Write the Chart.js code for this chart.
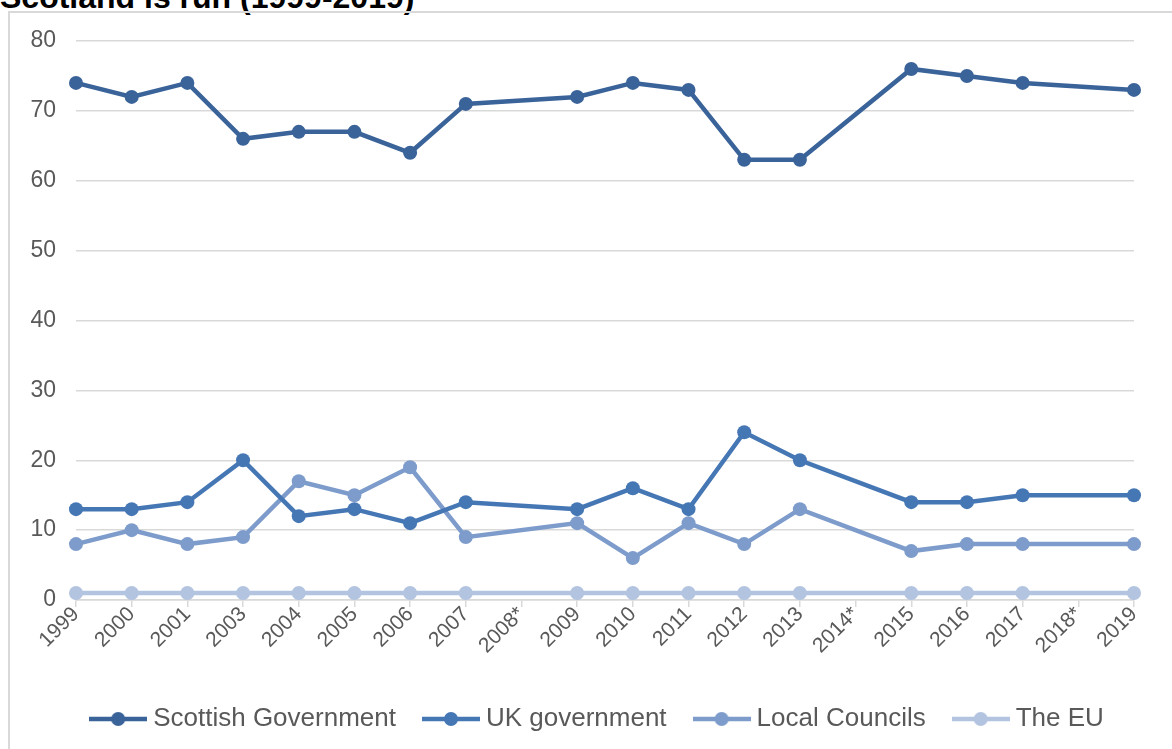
<!DOCTYPE html>
<html lang="en">
<head>
<meta charset="UTF-8">
<script src="https://cdn.jsdelivr.net/npm/chart.js"></script>
<title>Scotland is run (1999-2019)</title>
<style>
    html, body { margin: 0; padding: 0; background: #fff; overflow: hidden; }
    body { width: 1172px; height: 749px; position: relative; font-family: "Liberation Sans", Arial, sans-serif; }
    .title {
        position: absolute; left: 0; top: -19px;
        font-size: 32px; line-height: 32px; font-weight: bold; color: #000; white-space: nowrap;
    }
    .frame {
        position: absolute; left: 8px; top: 11px; width: 1200px; height: 800px;
        border-left: 2px solid #d9d9d9; border-top: 2px solid #d9d9d9;
    }
    .chart-box { position: absolute; left: 0; top: 0; width: 1172px; height: 749px; }
</style>
</head>
<body>
<div class="title">Scotland is run (1999-2019)</div>
<div class="frame"></div>
<div class="chart-box"><canvas id="grafico" width="1172" height="749"></canvas></div>
<script>
    const years = ['1999', '2000', '2001', '2003', '2004', '2005', '2006', '2007', '2008*', '2009',
                   '2010', '2011', '2012', '2013', '2014*', '2015', '2016', '2017', '2018*', '2019'];
    const scottishGov = [74, 72, 74, 66, 67, 67, 64, 71, null, 72, 74, 73, 63, 63, null, 76, 75, 74, null, 73];
    const ukGov = [13, 13, 14, 20, 12, 13, 11, 14, null, 13, 16, 13, 24, 20, null, 14, 14, 15, null, 15];
    const localCouncils = [8, 10, 8, 9, 17, 15, 19, 9, null, 11, 6, 11, 8, 13, null, 7, 8, 8, null, 8];
    const theEU = [1, 1, 1, 1, 1, 1, 1, 1, null, 1, 1, 1, 1, 1, null, 1, 1, 1, null, 1];
    const yTicks = [0, 10, 20, 30, 40, 50, 60, 70, 80];

    const colores = ['#3a6399', '#4677b5', '#7d9ccb', '#b3c4e0'];

    // legend marker: line with a dot in the middle
    function marcador(color) {
        const c = document.createElement('canvas');
        c.width = 58; c.height = 16;
        const ctx = c.getContext('2d');
        ctx.strokeStyle = color;
        ctx.lineWidth = 4.5;
        ctx.beginPath();
        ctx.moveTo(0, 8);
        ctx.lineTo(58, 8);
        ctx.stroke();
        ctx.fillStyle = color;
        ctx.beginPath();
        ctx.arc(29, 8, 7, 0, Math.PI * 2);
        ctx.fill();
        return c;
    }

    function serie(label, data, color) {
        return {
            label: label,
            data: data,
            borderColor: color,
            backgroundColor: color,
            borderWidth: 4.5,
            pointRadius: 7,
            pointHoverRadius: 7,
            pointBorderWidth: 0,
            spanGaps: true,
            tension: 0
        };
    }

    // the legend sits centred on the whole frame, not on the plot
    const moverLeyenda = {
        id: 'moverLeyenda',
        afterLayout(chart) {
            chart.legend.left += 33;
            chart.legend.right += 33;
        }
    };

    new Chart(document.getElementById('grafico'), {
        type: 'line',
        data: {
            labels: years,
            datasets: [
                serie('Scottish Government', scottishGov, colores[0]),
                serie('UK government', ukGov, colores[1]),
                serie('Local Councils', localCouncils, colores[2]),
                serie('The EU', theEU, colores[3])
            ]
        },
        plugins: [moverLeyenda],
        options: {
            responsive: false,
            animation: false,
            layout: { padding: { top: 41, right: 38, bottom: 7, left: 0 } },
            plugins: {
                tooltip: { enabled: false },
                legend: {
                    position: 'bottom',
                    labels: {
                        usePointStyle: true,
                        pointStyleWidth: 44,
                        padding: 33,
                        color: '#595959',
                        font: { family: '"Liberation Sans", Arial', size: 26 },
                        generateLabels: (chart) => chart.data.datasets.map((ds, i) => ({
                            text: ds.label,
                            pointStyle: marcador(colores[i]),
                            fillStyle: colores[i],
                            strokeStyle: colores[i],
                            lineWidth: 0,
                            fontColor: '#595959',
                            datasetIndex: i
                        }))
                    }
                }
            },
            scales: {
                x: {
                    offset: false,
                    grid: { drawOnChartArea: false, drawTicks: true, tickLength: 7, color: '#d9d9d9', lineWidth: 1.5 },
                    border: { display: true, color: '#d9d9d9', width: 1.5 },
                    ticks: {
                        autoSkip: false,
                        minRotation: 45,
                        maxRotation: 45,
                        padding: -5,
                        color: '#595959',
                        font: { family: '"Liberation Sans", Arial', size: 21 }
                    },
                    afterFit: (scale) => { scale.height = 73; }
                },
                y: {
                    min: 0,
                    max: 80,
                    afterBuildTicks: (scale) => { scale.ticks = yTicks.map(v => ({ value: v })); },
                    grid: { drawTicks: false, color: '#d9d9d9', lineWidth: 1.5 },
                    border: { display: false },
                    ticks: {
                        padding: 20,
                        color: '#595959',
                        font: { family: '"Liberation Sans", Arial', size: 23 }
                    },
                    afterFit: (scale) => { scale.width = 76; }
                }
            }
        }
    });
</script>
</body>
</html>
